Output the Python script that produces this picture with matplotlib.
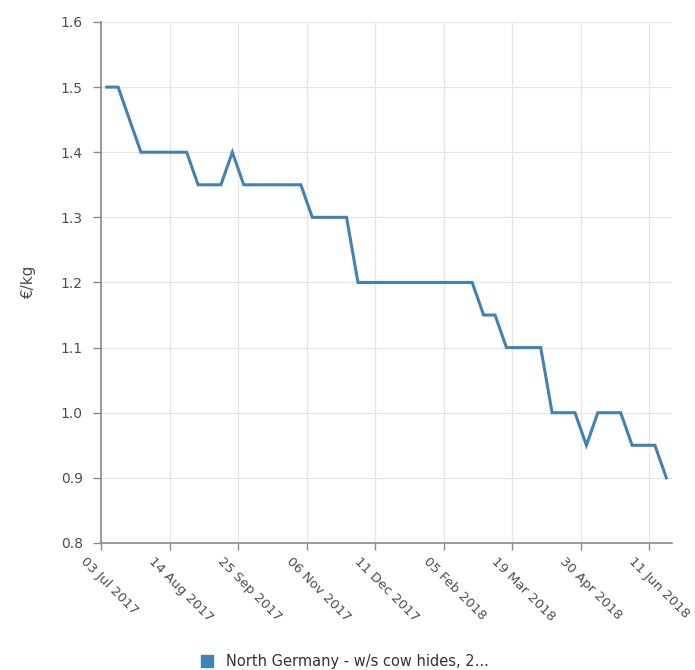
import numpy as np
import matplotlib.pyplot as plt
import matplotlib.transforms as mtransforms
from matplotlib.lines import Line2D

# Weekly prices (EUR/kg), one value per category on the axis
prices = [1.50, 1.50, 1.45, 1.40, 1.40, 1.40, 1.40, 1.40, 1.35, 1.35,
          1.35, 1.40, 1.35, 1.35, 1.35, 1.35, 1.35, 1.35, 1.30, 1.30,
          1.30, 1.30, 1.20, 1.20, 1.20, 1.20, 1.20, 1.20, 1.20, 1.20,
          1.20, 1.20, 1.20, 1.15, 1.15, 1.10, 1.10, 1.10, 1.10, 1.00,
          1.00, 1.00, 0.95, 1.00, 1.00, 1.00, 0.95, 0.95, 0.95, 0.90]
tick_labels = ['03 Jul 2017', '14 Aug 2017', '25 Sep 2017', '06 Nov 2017', '11 Dec 2017',
               '05 Feb 2018', '19 Mar 2018', '30 Apr 2018', '11 Jun 2018']
y_ticks = [0.8, 0.9, 1.0, 1.1, 1.2, 1.3, 1.4, 1.5, 1.6]
series_name = 'North Germany - w/s cow hides, 2...'

line_color = '#4281b4'
axis_color = '#8a8a8a'
text_color = '#4d4d4d'

plt.rcParams['font.family'] = ['DejaVu Sans']

fig = plt.figure(figsize=(6.95, 6.7), dpi=100)
ax = fig.add_axes([0.1453, 0.1896, 0.8217, 0.7776])

x = np.arange(len(prices))
ax.plot(x, prices, color=line_color, linewidth=2.2, solid_joinstyle='miter')

ax.set_xlim(-0.5, len(prices) - 0.5)
ax.set_ylim(0.8, 1.6)

# category ticks sit on the boundaries, every 6 weeks
tick_pos = np.arange(len(tick_labels)) * 6 - 0.5
ax.set_xticks(tick_pos)
ax.set_xticklabels([])
# rotated labels drawn by hand so they can be shifted like the original
base = ax.get_xaxis_transform()
offset = mtransforms.ScaledTranslation(-14 / 100, -12 / 100, fig.dpi_scale_trans)
for pos, lab in zip(tick_pos, tick_labels):
    ax.text(pos, 0, lab, transform=base + offset, rotation=-45,
            rotation_mode='anchor', ha='left', va='top',
            fontsize=9.5, color=text_color, clip_on=False)

ax.set_yticks(y_ticks)
ax.set_yticklabels([f'{v:.1f}' for v in y_ticks], fontsize=10, color=text_color)

ax.grid(True, color='#e6e6e6', linewidth=0.9)
ax.set_axisbelow(True)
for side in ['top', 'right']:
    ax.spines[side].set_visible(False)
for side in ['left', 'bottom']:
    ax.spines[side].set_color(axis_color)
    ax.spines[side].set_linewidth(1.2)
ax.tick_params(axis='both', color=axis_color, width=1)
ax.tick_params(axis='x', direction='out', length=5)
ax.tick_params(axis='y', length=6, pad=7)

ax.set_ylabel('€/kg', fontsize=11, color=text_color, labelpad=18)

handle = Line2D([], [], marker='s', linestyle='none', markersize=9,
                markerfacecolor=line_color, markeredgecolor=line_color)
fig.legend([handle], [series_name], loc='center', bbox_to_anchor=(0.49, 0.012),
           frameon=False, fontsize=10.5, handletextpad=0.3, labelcolor='#333333')

fig.savefig('out.png', dpi=100)
